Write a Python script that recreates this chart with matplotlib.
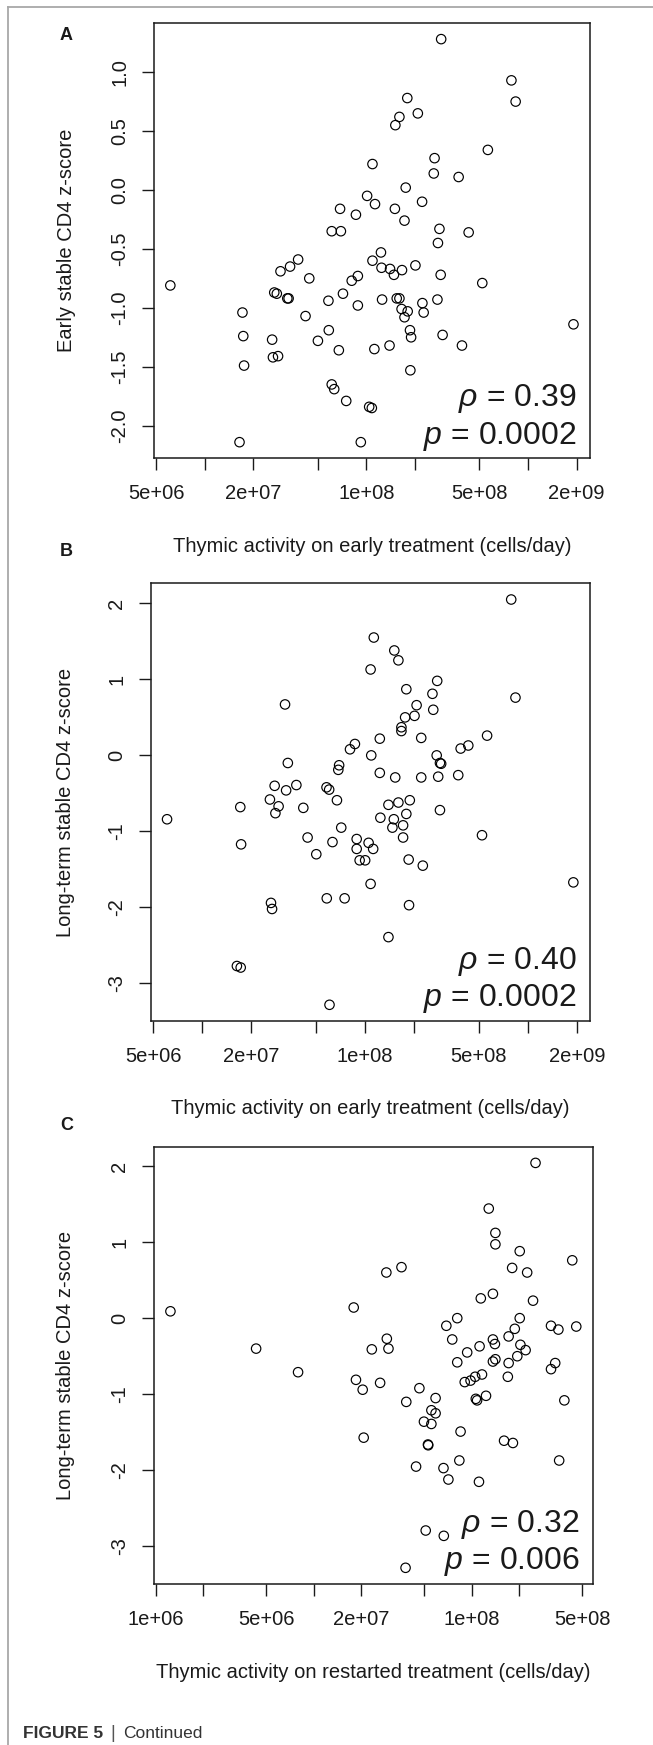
import numpy as np
import matplotlib.pyplot as plt
from matplotlib.lines import Line2D

plt.rcParams['font.family'] = ['Liberation Sans', 'DejaVu Sans']
plt.rcParams['mathtext.fontset'] = 'custom'
plt.rcParams['mathtext.it'] = 'Liberation Sans:italic'
plt.rcParams['mathtext.rm'] = 'Liberation Sans'

# panel A: early treatment thymic activity vs early stable CD4 z-score
early_a_x = [2.90e8, 7.89e8, 8.38e8, 1.79e8, 1.60e8, 1.51e8, 2.08e8, 5.64e8, 1.09e8, 2.64e8,
             2.61e8, 3.72e8, 1.75e8, 1.01e8, 1.13e8, 2.21e8, 6.87e7, 8.61e7, 1.50e8, 1.72e8,
             2.83e8, 4.29e8, 6.10e7, 6.95e7, 2.77e8, 3.78e7, 3.37e7, 2.94e7, 4.43e7, 1.09e8,
             1.23e8, 1.24e8, 1.40e8, 1.48e8, 1.66e8, 2.01e8, 2.88e8, 8.85e7, 8.11e7, 5.21e8,
             6.12e6, 2.69e7, 2.79e7, 3.24e7, 3.30e7, 5.82e7, 7.16e7, 8.85e7, 1.25e8, 1.54e8,
             1.60e8, 1.65e8, 1.80e8, 1.72e8, 2.22e8, 2.26e8, 2.75e8, 1.71e7, 1.73e7, 1.75e7,
             4.20e7, 2.61e7, 2.64e7, 2.84e7, 5.01e7, 5.85e7, 6.75e7, 1.12e8, 1.39e8, 1.86e8,
             1.89e8, 2.96e8, 3.90e8, 1.87e8, 6.10e7, 6.32e7, 7.50e7, 1.04e8, 1.08e8, 1.64e7,
             9.23e7, 1.91e9]
early_a_y = [1.28, 0.93, 0.75, 0.78, 0.62, 0.55, 0.65, 0.34, 0.22, 0.27,
             0.14, 0.11, 0.02, -0.05, -0.12, -0.10, -0.16, -0.21, -0.16, -0.26,
             -0.33, -0.36, -0.35, -0.35, -0.45, -0.59, -0.65, -0.69, -0.75, -0.60,
             -0.53, -0.66, -0.67, -0.72, -0.68, -0.64, -0.72, -0.73, -0.77, -0.79,
             -0.81, -0.87, -0.88, -0.92, -0.92, -0.94, -0.88, -0.98, -0.93, -0.92,
             -0.92, -1.01, -1.03, -1.08, -0.96, -1.04, -0.93, -1.04, -1.24, -1.49,
             -1.07, -1.27, -1.42, -1.41, -1.28, -1.19, -1.36, -1.35, -1.32, -1.19,
             -1.25, -1.23, -1.32, -1.53, -1.65, -1.69, -1.79, -1.84, -1.85, -2.14,
             -2.14, -1.14]

# panel B: early treatment thymic activity vs long-term stable CD4 z-score
early_b_x = [7.89e8, 1.13e8, 1.51e8, 1.60e8, 1.08e8, 2.77e8, 1.79e8, 2.59e8, 8.38e8, 3.22e7,
             2.07e8, 2.62e8, 1.76e8, 2.01e8, 1.67e8, 1.67e8, 1.23e8, 2.21e8, 5.61e8, 8.07e7,
             8.65e7, 3.86e8, 4.30e8, 1.09e8, 2.75e8, 2.88e8, 2.93e8, 3.35e7, 6.92e7, 6.84e7,
             1.23e8, 1.53e8, 2.21e8, 2.81e8, 3.73e8, 2.78e7, 3.27e7, 3.78e7, 5.79e7, 6.01e7,
             2.60e7, 2.94e7, 2.81e7, 1.71e7, 4.17e7, 6.71e7, 1.39e8, 1.60e8, 1.88e8, 2.88e8,
             1.79e8, 1.24e8, 1.50e8, 1.47e8, 1.71e8, 7.13e7, 6.07e6, 5.22e8, 1.73e7, 4.43e7,
             6.30e7, 8.87e7, 8.87e7, 1.05e8, 1.12e8, 1.71e8, 5.01e7, 9.25e7, 1.00e8, 1.85e8,
             2.26e8, 1.08e8, 5.81e7, 7.48e7, 1.86e8, 2.64e7, 2.68e7, 1.39e8, 1.63e7, 1.72e7,
             6.04e7, 1.90e9]
early_b_y = [2.05, 1.55, 1.38, 1.25, 1.13, 0.98, 0.87, 0.81, 0.76, 0.67,
             0.66, 0.60, 0.50, 0.52, 0.37, 0.32, 0.22, 0.23, 0.26, 0.08,
             0.15, 0.09, 0.13, 0.00, 0.00, -0.10, -0.11, -0.10, -0.13, -0.19,
             -0.23, -0.29, -0.29, -0.28, -0.26, -0.40, -0.46, -0.39, -0.42, -0.45,
             -0.58, -0.67, -0.76, -0.68, -0.69, -0.59, -0.65, -0.62, -0.59, -0.72,
             -0.77, -0.82, -0.84, -0.95, -0.92, -0.95, -0.84, -1.05, -1.17, -1.08,
             -1.14, -1.10, -1.23, -1.15, -1.23, -1.08, -1.30, -1.38, -1.38, -1.37,
             -1.45, -1.69, -1.88, -1.88, -1.97, -1.94, -2.02, -2.39, -2.77, -2.79,
             -3.28, -1.67]

# panel C: restarted treatment thymic activity vs long-term stable CD4 z-score
restart_x = [2.53e8, 1.28e8, 1.41e8, 1.41e8, 2.01e8, 4.32e8, 1.80e8, 2.24e8, 2.88e7, 3.59e7,
             1.36e8, 1.14e8, 2.44e8, 1.24e6, 1.79e7, 6.90e7, 8.09e7, 2.01e8, 1.87e8, 3.17e8,
             3.53e8, 4.58e8, 7.52e7, 1.36e8, 1.40e8, 1.71e8, 1.12e8, 2.03e8, 2.19e8, 9.35e7,
             1.94e8, 2.90e7, 2.97e7, 2.33e7, 4.32e6, 8.09e7, 1.36e8, 1.41e8, 1.71e8, 3.17e8,
             3.37e8, 7.96e6, 1.85e7, 2.04e7, 2.63e7, 9.02e7, 9.82e7, 1.05e8, 1.16e8, 1.69e8,
             4.66e7, 3.85e7, 5.90e7, 1.06e8, 1.08e8, 1.23e8, 3.85e8, 5.55e7, 5.90e7, 4.98e7,
             5.55e7, 8.49e7, 2.07e7, 1.60e8, 1.82e8, 5.28e7, 5.30e7, 4.44e7, 6.62e7, 7.11e7,
             8.34e7, 1.11e8, 3.57e8, 5.11e7, 6.65e7, 3.81e7]
restart_y = [2.04, 1.44, 1.12, 0.97, 0.88, 0.76, 0.66, 0.60, 0.60, 0.67,
             0.32, 0.26, 0.23, 0.09, 0.14, -0.10, 0.00, 0.00, -0.14, -0.10,
             -0.15, -0.11, -0.28, -0.28, -0.34, -0.24, -0.37, -0.35, -0.42, -0.45,
             -0.50, -0.27, -0.40, -0.41, -0.40, -0.58, -0.57, -0.54, -0.59, -0.67,
             -0.59, -0.71, -0.81, -0.94, -0.85, -0.84, -0.82, -0.77, -0.74, -0.77,
             -0.92, -1.10, -1.05, -1.06, -1.08, -1.02, -1.08, -1.21, -1.25, -1.36,
             -1.39, -1.49, -1.57, -1.61, -1.64, -1.66, -1.67, -1.95, -1.97, -2.12,
             -1.87, -2.15, -1.87, -2.79, -2.86, -3.28]

early_ticks = [5e6, 1e7, 2e7, 5e7, 1e8, 2e8, 5e8, 1e9, 2e9]
early_labels = ['5e+06', '', '2e+07', '', '1e+08', '', '5e+08', '', '2e+09']
restart_ticks = [1e6, 2e6, 5e6, 1e7, 2e7, 5e7, 1e8, 2e8, 5e8]
restart_labels = ['1e+06', '', '5e+06', '', '2e+07', '', '1e+08', '', '5e+08']
a_yticks = [-2.0, -1.5, -1.0, -0.5, 0.0, 0.5, 1.0]
a_ylabels = ['-2.0', '-1.5', '-1.0', '-0.5', '0.0', '0.5', '1.0']
b_yticks = [-3, -2, -1, 0, 1, 2]
b_ylabels = ['-3', '-2', '-1', '0', '1', '2']

W, H = 653, 1745
fig = plt.figure(figsize=(W / 100, H / 100), dpi=100)
ink = '#1a1a1a'


def r_lim(v, log=False):
    # R default axis range: data range padded by 4% on each side
    v = np.log10(v) if log else np.asarray(v, dtype=float)
    lo, hi = v.min(), v.max()
    d = (hi - lo) * 0.04
    if log:
        return 10 ** (lo - d), 10 ** (hi + d)
    return lo - d, hi + d


def panel(box, xs, ys, xticks, xlabels, yticks, ylabels, xlab, ylab,
          letter, letter_y, rho, pval):
    l, t, r, b = box
    ax = fig.add_axes([l / W, 1 - b / H, (r - l) / W, (b - t) / H])
    ax.scatter(xs, ys, s=46, facecolors='none', edgecolors='black', linewidths=0.85)
    ax.set_xscale('log')
    ax.set_xlim(r_lim(xs, log=True))
    ax.set_ylim(r_lim(ys))
    ax.minorticks_off()
    ax.set_xticks(xticks, xlabels)
    ax.set_yticks(yticks, ylabels)
    for lbl in ax.get_yticklabels():
        lbl.set_rotation(90)
        lbl.set_va('center')
    ax.tick_params(length=8.8, width=1.0, labelsize=14.5, color=ink, labelcolor=ink)
    ax.tick_params(axis='x', pad=10)
    ax.tick_params(axis='y', pad=9)
    for s in ax.spines.values():
        s.set_linewidth(1.1)
        s.set_color(ink)
    cx = (l + r) / 2 / W
    cy = 1 - (t + b) / 2 / H
    fig.text(cx, 1 - (b + 88) / H, xlab, ha='center', va='center', fontsize=14.5, color=ink)
    fig.text(66 / W, cy, ylab, ha='center', va='center', rotation=90, fontsize=14.5, color=ink)
    fig.text(66.5 / W, 1 - letter_y / H, letter, ha='center', va='center',
             fontsize=13, fontweight='bold', color=ink)
    ax.annotate(r'$\rho$ = ' + rho, xy=(1, 0), xycoords='axes fraction',
                xytext=(-9.5, 37.5), textcoords='offset points',
                ha='right', va='baseline', fontsize=23, color=ink)
    ax.annotate(r'$p$ = ' + pval, xy=(1, 0), xycoords='axes fraction',
                xytext=(-9.5, 10.5), textcoords='offset points',
                ha='right', va='baseline', fontsize=23, color=ink)
    return ax


panel((154.2, 23, 589.6, 458.3), early_a_x, early_a_y, early_ticks, early_labels,
      a_yticks, a_ylabels, 'Thymic activity on early treatment (cells/day)',
      'Early stable CD4 z-score', 'A', 35, '0.39', '0.0002')
panel((150.8, 583.3, 589.6, 1021), early_b_x, early_b_y, early_ticks, early_labels,
      b_yticks, b_ylabels, 'Thymic activity on early treatment (cells/day)',
      'Long-term stable CD4 z-score', 'B', 551, '0.40', '0.0002')
panel((154.2, 1146.7, 592.5, 1584), restart_x, restart_y, restart_ticks, restart_labels,
      b_yticks, b_ylabels, 'Thymic activity on restarted treatment (cells/day)',
      'Long-term stable CD4 z-score', 'C', 1125, '0.32', '0.006')

# page frame (left and top rules) and caption
fig.add_artist(Line2D([8 / W, 8 / W], [0, 1 - 7 / H], transform=fig.transFigure,
                      color='#a8a8a8', linewidth=1.3))
fig.add_artist(Line2D([8 / W, 1], [1 - 7 / H, 1 - 7 / H], transform=fig.transFigure,
                      color='#a8a8a8', linewidth=1.3))
fig.text(23 / W, 1 - 1733 / H, 'FIGURE 5', fontsize=12.5, fontweight='bold',
         va='center', color='#333333')
fig.text(110 / W, 1 - 1733 / H, '|', fontsize=13, va='center', color='#555555')
fig.text(123 / W, 1 - 1733 / H, 'Continued', fontsize=12.5, va='center', color='#333333')

fig.savefig('out.png', dpi=100)
